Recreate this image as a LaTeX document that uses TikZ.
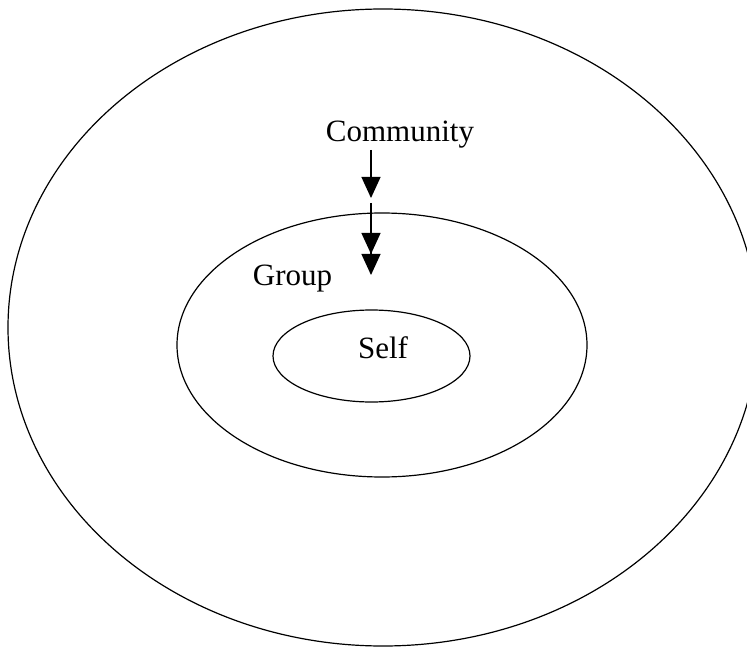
\documentclass[tikz,border=0pt]{standalone}
\usepackage{fontspec}
\setmainfont{Liberation Serif}
\usetikzlibrary{arrows.meta}
\begin{document}
\begin{tikzpicture}[x=1pt,y=-1pt,
  ring/.style={draw=black,line width=1.2pt},
  lbl/.style={font=\fontsize{31}{36}\selectfont,anchor=base,inner sep=0pt},
  flow/.style={line width=1.2pt,-{Triangle[width=19pt,length=21pt]}},
  flowtwo/.style={line width=1.2pt,-{Triangle[width=19pt,length=21pt]Triangle[width=19pt,length=21pt]}}]
\useasboundingbox (0,0) rectangle (747,647);
\clip (0,0) rectangle (747,647);
\draw[ring] (383,327.5) ellipse [x radius=375, y radius=318.5];
\draw[ring] (382,345) ellipse [x radius=205, y radius=132];
\draw[ring] (371.5,356) ellipse [x radius=98.5, y radius=46];
\node[lbl] (community) at (400,142) {Community};
\node[lbl] (group) at (292.5,285) {Group};
\node[lbl] (self) at (383,358) {Self};
\coordinate (a1s) at (371,150);
\coordinate (a1e) at (371,198);
\coordinate (a2s) at (371,203);
\coordinate (a2e) at (371,275);
\draw[flow] (a1s) -- (a1e);
\draw[flowtwo] (a2s) -- (a2e);
\end{tikzpicture}
\end{document}
